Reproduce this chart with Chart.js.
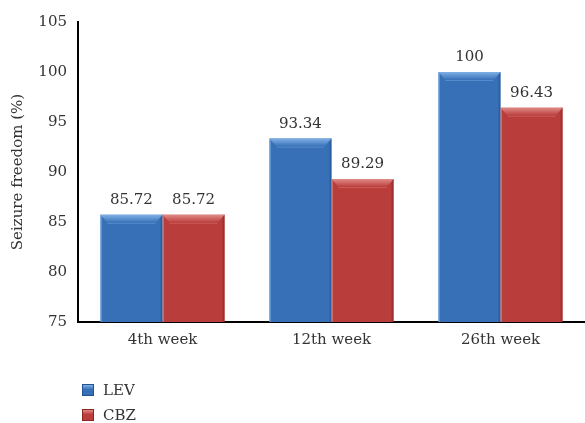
<!DOCTYPE html>
<html>
<head>
<meta charset="utf-8">
<script src="https://cdn.jsdelivr.net/npm/chart.js@4"></script>
<style>
  html, body { margin: 0; padding: 0; background: #fff; }
  #wrap { position: relative; width: 585px; height: 423px; }
  #legend { position: absolute; left: 82px; top: 377px; font-family: "DejaVu Serif", "Liberation Serif", serif; font-size: 15px; color: #333; }
  .item { display: flex; align-items: center; height: 25px; }
  .sw { width: 12px; height: 12px; margin-right: 9px; box-sizing: border-box; }
</style>
</head>
<body>
<div id="wrap">
  <canvas id="c" width="585" height="423"></canvas>
  <div id="legend"></div>
</div>
<script>
// Seizure freedom rates by follow-up week
const categories = ["4th week", "12th week", "26th week"];
const levValues = [85.72, 93.34, 100];
const cbzValues = [85.72, 89.29, 96.43];
const yTicks = [75, 80, 85, 90, 95, 100, 105];

const SERIF = '"DejaVu Serif", "Liberation Serif", serif';
const palette = {
  LEV: { fill: "#3770b6", light: "#6a9fdc", edge: "#24528e", hi: "#7fb0e6" },
  CBZ: { fill: "#b93d3b", light: "#d9706c", edge: "#8a2624", hi: "#e08a86" }
};

// Bevelled top and shaded edges on every bar
const bevelPlugin = {
  id: "bevel",
  afterDatasetsDraw(chart) {
    const ctx = chart.ctx;
    const bottom = chart.chartArea.bottom;
    chart.data.datasets.forEach((ds, di) => {
      const col = palette[ds.label];
      chart.getDatasetMeta(di).data.forEach(bar => {
        const w = bar.width, l = bar.x - w / 2, r = bar.x + w / 2, t = bar.y;
        const b = Math.min(bar.base, bottom);
        ctx.save();
        // right dark edge
        ctx.fillStyle = col.edge;
        ctx.globalAlpha = 0.55;
        ctx.fillRect(r - 2, t, 2, b - t);
        // left light edge
        ctx.fillStyle = col.hi;
        ctx.globalAlpha = 0.6;
        ctx.fillRect(l, t, 1.5, b - t);
        // top bevel
        ctx.globalAlpha = 1;
        const g = ctx.createLinearGradient(0, t, 0, t + 8);
        g.addColorStop(0, col.hi);
        g.addColorStop(1, col.fill);
        ctx.fillStyle = g;
        ctx.beginPath();
        ctx.moveTo(l, t);
        ctx.lineTo(r, t);
        ctx.lineTo(r - 7, t + 8);
        ctx.lineTo(l + 7, t + 8);
        ctx.closePath();
        ctx.fill();
        ctx.strokeStyle = col.light;
        ctx.globalAlpha = 0.6;
        ctx.lineWidth = 1;
        ctx.beginPath();
        ctx.moveTo(l + 7, t + 8.5);
        ctx.lineTo(r - 7, t + 8.5);
        ctx.stroke();
        ctx.restore();
      });
    });
  }
};

// Value labels above bars
const valueLabels = {
  id: "valueLabels",
  afterDatasetsDraw(chart) {
    const ctx = chart.ctx;
    ctx.save();
    ctx.font = "15px " + SERIF;
    ctx.fillStyle = "#333";
    ctx.textAlign = "center";
    ctx.textBaseline = "bottom";
    chart.data.datasets.forEach((ds, di) => {
      chart.getDatasetMeta(di).data.forEach((bar, i) => {
        ctx.fillText(String(ds.data[i]), bar.x, bar.y - 7);
      });
    });
    ctx.restore();
  }
};

const chart = new Chart(document.getElementById("c"), {
  type: "bar",
  data: {
    labels: categories,
    datasets: [
      { label: "LEV", data: levValues, backgroundColor: palette.LEV.fill },
      { label: "CBZ", data: cbzValues, backgroundColor: palette.CBZ.fill }
    ]
  },
  options: {
    responsive: false,
    animation: false,
    layout: { padding: { top: 22, right: 0, bottom: 0, left: 0 } },
    datasets: { bar: { categoryPercentage: 0.735, barPercentage: 1 } },
    plugins: { legend: { display: false }, tooltip: { enabled: false } },
    scales: {
      x: {
        grid: { display: false, drawTicks: false },
        border: { display: true, color: "#000", width: 2 },
        ticks: { color: "#333", font: { family: SERIF, size: 15 }, padding: 9 },
        afterFit: s => { s.height = 101; }
      },
      y: {
        min: 75, max: 105,
        afterBuildTicks: s => { s.ticks = yTicks.map(v => ({ value: v })); },
        grid: { display: false, drawTicks: false },
        border: { display: true, color: "#000", width: 2 },
        ticks: { color: "#333", font: { family: SERIF, size: 15 }, padding: 11 },
        title: { display: true, text: "Seizure freedom (%)", color: "#333", font: { family: SERIF, size: 15 }, padding: { top: 9, bottom: 0 } },
        afterFit: s => { s.width = 78; }
      }
    }
  },
  plugins: [bevelPlugin, valueLabels]
});

// Vertical legend built from the datasets
const legendEl = document.getElementById("legend");
chart.data.datasets.forEach(ds => {
  const col = palette[ds.label];
  const item = document.createElement("div");
  item.className = "item";
  const sw = document.createElement("span");
  sw.className = "sw";
  sw.style.background = "linear-gradient(" + col.hi + ", " + col.fill + " 45%)";
  sw.style.border = "1px solid " + col.edge;
  const tx = document.createElement("span");
  tx.textContent = ds.label;
  item.appendChild(sw);
  item.appendChild(tx);
  legendEl.appendChild(item);
});
</script>
</body>
</html>
